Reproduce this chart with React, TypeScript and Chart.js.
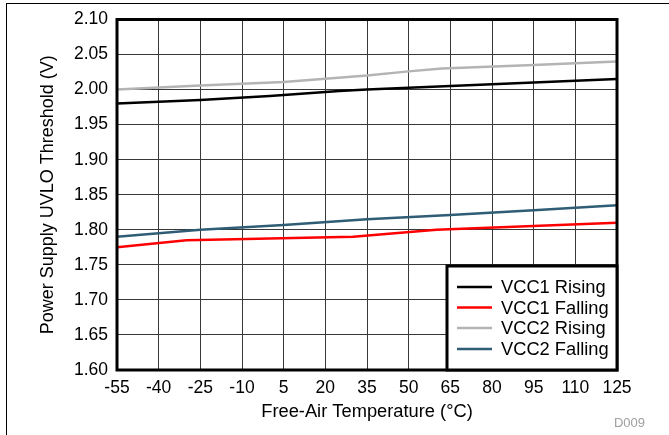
import React, { useEffect, useRef } from "react";
import { Chart, registerables } from "chart.js";
Chart.register(...registerables);

const FONT = "'Liberation Sans', Arial, sans-serif";

const xTicks = [-55, -40, -25, -10, 5, 20, 35, 50, 65, 80, 95, 110, 125];
const yTicks = [1.6, 1.65, 1.7, 1.75, 1.8, 1.85, 1.9, 1.95, 2.0, 2.05, 2.1];

const vcc1RisingT = [-55, -25, 0, 25, 35, 65, 95, 125];
const vcc1Rising = [1.98, 1.985, 1.991, 1.998, 2.0, 2.005, 2.01, 2.015];

const vcc1FallingT = [-55, -30, 30, 60, 125];
const vcc1Falling = [1.775, 1.785, 1.79, 1.8, 1.81];

const vcc2RisingT = [-55, -25, 5, 35, 50, 62, 95, 125];
const vcc2Rising = [2.0, 2.006, 2.011, 2.02, 2.026, 2.03, 2.035, 2.04];

const vcc2FallingT = [-55, -25, 5, 35, 65, 95, 125];
const vcc2Falling = [1.79, 1.8, 1.807, 1.815, 1.821, 1.828, 1.835];

const seriesNames = ["VCC1 Rising", "VCC1 Falling", "VCC2 Rising", "VCC2 Falling"];
const seriesColors = ["#000000", "#ff0000", "#b4b4b4", "#2e5d75"];

const pts = (t: number[], v: number[]) => t.map((x, i) => ({ x, y: v[i] }));

const framePlugin = {
  id: "frame",
  beforeDraw(chart: any) {
    const ctx = chart.ctx;
    ctx.save();
    ctx.fillStyle = "#fff";
    ctx.fillRect(0, 0, chart.width, chart.height);
    ctx.fillStyle = "#000";
    ctx.fillRect(6, 3, chart.width - 6, 1);
    ctx.fillRect(6, 3, 1, chart.height - 3);
    ctx.restore();
  },
  afterDatasetsDraw(chart: any) {
    const { ctx, chartArea: a } = chart;
    ctx.save();
    ctx.strokeStyle = "#000";
    ctx.lineWidth = 3;
    ctx.strokeRect(a.left, a.top, a.right - a.left, a.bottom - a.top);
    ctx.restore();
  },
  afterDraw(chart: any) {
    const { ctx, chartArea: a } = chart;
    ctx.save();
    const w = 170, h = 104;
    const L = a.right - w, T = a.bottom - h;
    ctx.fillStyle = "#fff";
    ctx.fillRect(L, T, w, h);
    ctx.strokeStyle = "#000";
    ctx.lineWidth = 3;
    ctx.strokeRect(L, T, w, h);
    ctx.font = `18.3px ${FONT}`;
    ctx.textBaseline = "middle";
    ctx.textAlign = "left";
    const rows = [21, 41.5, 62, 83];
    seriesNames.forEach((n, i) => {
      const y = T + rows[i];
      ctx.strokeStyle = seriesColors[i];
      ctx.lineWidth = 2.5;
      ctx.beginPath();
      ctx.moveTo(L + 10, y);
      ctx.lineTo(L + 45, y);
      ctx.stroke();
      ctx.fillStyle = "#000";
      ctx.fillText(n, L + 54, y + 1);
    });
    ctx.fillStyle = "#a0a0a0";
    ctx.font = `13px ${FONT}`;
    ctx.textAlign = "right";
    ctx.fillText("D009", 645, 423);
    ctx.restore();
  },
};

export default function App() {
  const ref = useRef<HTMLCanvasElement>(null);
  useEffect(() => {
    const data = [
      pts(vcc1RisingT, vcc1Rising),
      pts(vcc1FallingT, vcc1Falling),
      pts(vcc2RisingT, vcc2Rising),
      pts(vcc2FallingT, vcc2Falling),
    ];
    const chart = new Chart(ref.current!, {
      type: "line",
      data: {
        datasets: seriesNames.map((n, i) => ({
          label: n,
          data: data[i],
          borderColor: seriesColors[i],
          backgroundColor: seriesColors[i],
          borderWidth: 2.5,
          pointRadius: 0,
          tension: 0,
        })),
      },
      options: {
        responsive: false,
        animation: false,
        layout: { padding: { left: 0, right: 52, top: 18, bottom: 0 } },
        plugins: { legend: { display: false }, tooltip: { enabled: false } },
        scales: {
          x: {
            type: "linear",
            min: -55,
            max: 125,
            afterBuildTicks: (s: any) => {
              s.ticks = xTicks.map((v) => ({ value: v }));
            },
            afterFit: (s: any) => {
              s.height = 65;
            },
            grid: { color: "#383838", lineWidth: 1, drawTicks: false },
            border: { display: false },
            ticks: {
              color: "#000",
              font: { family: FONT, size: 17.5 },
              padding: 8,
              maxRotation: 0,
              autoSkip: false,
            },
            title: {
              display: true,
              text: "Free-Air Temperature (°C)",
              color: "#000",
              font: { family: FONT, size: 18.3 },
              padding: { top: 0, bottom: 12 },
            },
          },
          y: {
            type: "linear",
            min: 1.6,
            max: 2.1,
            afterBuildTicks: (s: any) => {
              s.ticks = yTicks.map((v) => ({ value: v }));
            },
            afterFit: (s: any) => {
              s.width = 117;
            },
            grid: { color: "#383838", lineWidth: 1, drawTicks: false },
            border: { display: false },
            ticks: {
              color: "#000",
              font: { family: FONT, size: 17.5 },
              padding: 9,
              callback: (v: any) => Number(v).toFixed(2),
            },
            title: {
              display: true,
              text: "Power Supply UVLO Threshold (V)",
              color: "#000",
              font: { family: FONT, size: 18 },
              padding: { top: 37, bottom: 0 },
            },
          },
        },
      },
      plugins: [framePlugin],
    });
    return () => chart.destroy();
  }, []);
  return (
    <div style={{ position: "absolute", left: 0, top: 0, width: 669, height: 435, background: "#fff" }}>
      <canvas ref={ref} width={669} height={435} style={{ display: "block" }} />
    </div>
  );
}
